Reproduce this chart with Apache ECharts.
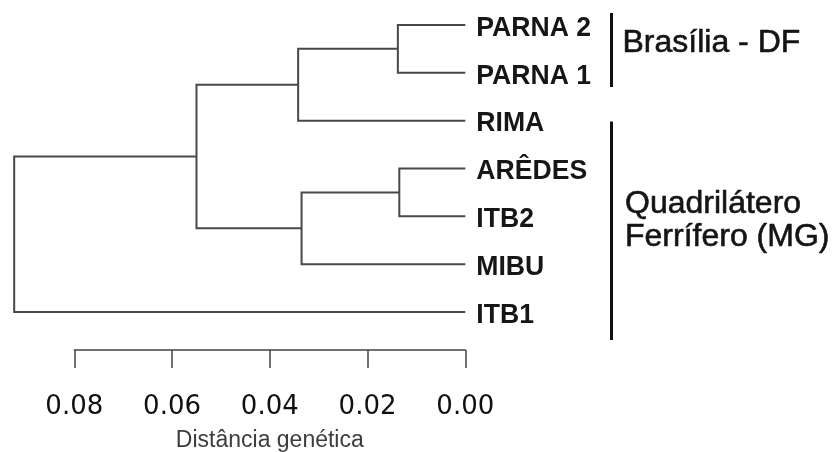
<!DOCTYPE html>
<html>
<head>
<meta charset="utf-8">
<script src="https://cdn.jsdelivr.net/npm/echarts@6/dist/echarts.min.js"></script>
<style>
  html, body { margin: 0; padding: 0; background: #ffffff; }
  #chart { width: 833px; height: 452px; }
</style>
</head>
<body>
<div id="chart"></div>
<script>
// Leaves of the dendrogram, top to bottom
const leafNames = ['PARNA 2', 'PARNA 1', 'RIMA', 'ARÊDES', 'ITB2', 'MIBU', 'ITB1'];

// hclust-style merge table: -k = leaf k (1-based), +j = result of merge step j
const mergeLeft   = [-1,  1, -4,  3,  2,  5];
const mergeRight  = [-2, -3, -5, -6,  4, -7];
const mergeHeight = [0.0138, 0.0342, 0.0135, 0.0335, 0.0550, 0.0923];

// Distance axis ticks
const tickValues = [0, 0.02, 0.04, 0.06, 0.08];

// Population groups shown at the right
const groupLabels = ['Brasília - DF', 'Quadrilátero\nFerrífero (MG)'];

// Resolve each merge step into node positions: [height, yLeft, yRight, hLeft, hRight]
const nodeY = [], nodeH = [];
function childPos(ref) {
  if (ref < 0) return { y: -ref - 1, h: 0 };
  return { y: nodeY[ref - 1], h: nodeH[ref - 1] };
}
const links = mergeHeight.map((h, j) => {
  const a = childPos(mergeLeft[j]);
  const b = childPos(mergeRight[j]);
  nodeY[j] = (a.y + b.y) / 2;
  nodeH[j] = h;
  return [h, a.y, b.y, a.h, b.h];
});

const chart = echarts.init(document.getElementById('chart'), null, { renderer: 'canvas' });

chart.setOption({
  animation: false,
  backgroundColor: '#ffffff',
  grid: { left: 74.3, right: 367.7, top: 1, height: 335, outerBoundsMode: 'none', containLabel: false },
  xAxis: {
    type: 'value',
    inverse: true,
    min: 0,
    max: 0.08,
    interval: 0.02,
    position: 'bottom',
    offset: 14,
    axisLine: { show: true, onZero: false, lineStyle: { color: '#444444', width: 1.5 } },
    axisTick: { show: true, length: 18, lineStyle: { color: '#444444', width: 1.5 } },
    splitLine: { show: false },
    axisLabel: {
      margin: 44,
      fontFamily: 'DejaVu Sans',
      fontSize: 26,
      color: '#101010',
      formatter: v => tickValues.includes(+v.toFixed(2)) ? v.toFixed(2) : ''
    },
    name: 'Distância genética',
    nameLocation: 'middle',
    nameGap: 79,
    nameTextStyle: { fontFamily: 'Liberation Sans', fontSize: 23, color: '#3c3c3c' }
  },
  yAxis: {
    type: 'value',
    inverse: true,
    min: -0.5,
    max: 6.5,
    show: false
  },
  series: [
    {
      // dendrogram branches
      type: 'custom',
      clip: false,
      data: links,
      encode: { x: [0, 3, 4], y: [1, 2] },
      renderItem(params, api) {
        const h = api.value(0), yL = api.value(1), yR = api.value(2);
        const hL = api.value(3), hR = api.value(4);
        const pts = [
          api.coord([hL, yL]), api.coord([h, yL]),
          api.coord([h, yR]), api.coord([hR, yR])
        ];
        return {
          type: 'polyline',
          shape: { points: pts },
          style: { stroke: '#484848', lineWidth: 2, fill: null }
        };
      }
    },
    {
      // leaf names
      type: 'custom',
      clip: false,
      data: leafNames.map((n, i) => [0, i]),
      renderItem(params, api) {
        const p = api.coord([api.value(0), api.value(1)]);
        return {
          type: 'text',
          x: p[0] + 11,
          y: p[1] + 3,
          scaleX: 0.95,
          style: {
            text: leafNames[params.dataIndex],
            font: 'bold 28px "Liberation Sans", Arial, sans-serif',
            fill: '#161616',
            align: 'left',
            verticalAlign: 'middle'
          }
        };
      }
    }
  ],
  graphic: [
    { type: 'line', shape: { x1: 611.5, y1: 13, x2: 611.5, y2: 87 },
      style: { stroke: '#111111', lineWidth: 3 } },
    { type: 'line', shape: { x1: 611.5, y1: 121.5, x2: 611.5, y2: 340 },
      style: { stroke: '#111111', lineWidth: 3 } },
    { type: 'text', x: 622.5, y: 43,
      style: { text: groupLabels[0], font: '32px "Liberation Sans", Arial, sans-serif',
               fill: '#141414', stroke: '#141414', lineWidth: 0.6,
               align: 'left', verticalAlign: 'middle' } },
    { type: 'text', x: 625, y: 221,
      style: { text: groupLabels[1], font: '32px "Liberation Sans", Arial, sans-serif',
               lineHeight: 33, fill: '#141414', stroke: '#141414', lineWidth: 0.6,
               align: 'left', verticalAlign: 'middle' } }
  ]
});
</script>
</body>
</html>
